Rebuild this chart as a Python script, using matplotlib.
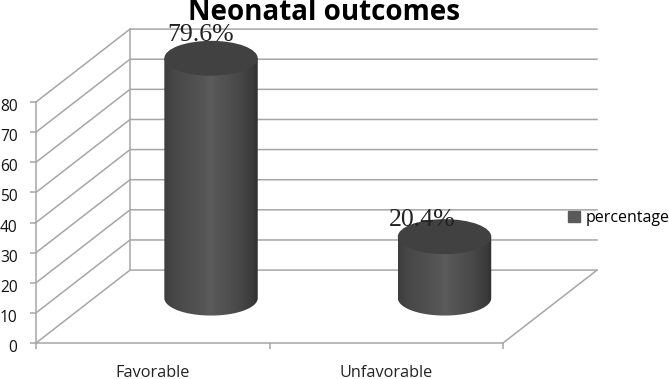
import matplotlib
matplotlib.use('Agg')
import matplotlib.pyplot as plt
import numpy as np
from matplotlib.colors import LinearSegmentedColormap
from matplotlib.patches import Ellipse, PathPatch, Patch
from matplotlib.path import Path
from matplotlib.transforms import ScaledTranslation

categories = ['Favorable', 'Unfavorable']
percentage = [79.6, 20.4]
value_labels = ['79.6%', '20.4%']
y_ticks = [0, 10, 20, 30, 40, 50, 60, 70, 80]

GRID = '#a6a6a6'
TICK_FONT = 'Open Sans'

# the 3D look: back wall is the front plane shifted by this much (data units)
DEPTH_X = 0.4026
DEPTH_Y = 24.2
BAR_DEPTH = 0.62      # bars stand this far back on the floor
BAR_HALF = 0.2
BAR_RY = 5.8
# where the value labels sit relative to the bar top
LABEL_DX = [-0.043, -0.094]
LABEL_DY = [7.8, 5.5]

shade = LinearSegmentedColormap.from_list('cyl', [
    (0.0, '#3d3d3d'), (0.1, '#474747'), (0.42, '#555555'), (0.5, '#5c5c5c'),
    (0.58, '#555555'), (0.8, '#484848'), (0.95, '#3a3a3a'), (1.0, '#2f2f2f')])

fig = plt.figure(figsize=(6.69, 3.79), dpi=100)
ax = fig.add_axes([36 / 669, 36 / 379, 467 / 669, 241 / 379])
ax.set_xlim(0, 2)
ax.set_ylim(0, 80)

# walls and floor
for v in y_ticks:
    ax.plot([0, DEPTH_X, 2 + DEPTH_X], [v, v + DEPTH_Y, v + DEPTH_Y],
            color=GRID, lw=1.1, clip_on=False, zorder=1)
ax.plot([DEPTH_X, DEPTH_X], [DEPTH_Y, 80 + DEPTH_Y], color=GRID, lw=1.1,
        clip_on=False, zorder=1)
ax.plot([2, 2 + DEPTH_X], [0, DEPTH_Y], color=GRID, lw=1.1, clip_on=False, zorder=1)

# cylinders
gradient = np.linspace(0, 1, 256).reshape(1, -1)
for i, val in enumerate(percentage):
    cx = i + 0.5 + BAR_DEPTH * DEPTH_X
    base = 0.616 * DEPTH_Y
    top = base + val
    t = np.linspace(np.pi, 2 * np.pi, 60)
    xs = cx + BAR_HALF * np.cos(t)
    ys = base + BAR_RY * np.sin(t)
    verts = [(cx - BAR_HALF, top)] + list(zip(xs, ys)) + [(cx + BAR_HALF, top), (cx - BAR_HALF, top)]
    body = PathPatch(Path(verts), transform=ax.transData, fc='none', ec='none')
    ax.add_patch(body)
    im = ax.imshow(gradient, extent=[cx - BAR_HALF, cx + BAR_HALF, base - BAR_RY, top],
                   aspect='auto', cmap=shade, zorder=3)
    im.set_clip_box(fig.bbox)   # bars stick out of the front plane
    im.set_clip_path(body)
    ax.add_patch(Ellipse((cx, top), 2 * BAR_HALF, 2 * BAR_RY, fc='#414141', ec='none',
                         zorder=4, clip_on=False))
    ax.text(cx + LABEL_DX[i], top + LABEL_DY[i], value_labels[i], family='Liberation Serif',
            fontsize=18.5, ha='center', va='center', color='#222222', zorder=5, clip_on=False)

ax.set_xlim(0, 2)
ax.set_ylim(0, 80)

# axes
for side in ['top', 'right']:
    ax.spines[side].set_visible(False)
for side in ['left', 'bottom']:
    ax.spines[side].set_color(GRID)
    ax.spines[side].set_linewidth(1.1)
ax.patch.set_visible(False)
ax.set_yticks(y_ticks)
ax.set_yticklabels([str(v) for v in y_ticks], family=TICK_FONT, fontsize=11.2, color='#111111')
ax.tick_params(axis='y', length=4.3, width=1.1, color=GRID, pad=9)
# labels sit a little under their ticks in the original
for lab in ax.get_yticklabels():
    lab.set_transform(lab.get_transform() + ScaledTranslation(0, -3 / 100, fig.dpi_scale_trans))
ax.set_xticks([0, 1, 2])
ax.set_xticklabels([])
ax.set_xticks([0.5, 1.5], minor=True)
ax.set_xticklabels(categories, minor=True, family=TICK_FONT, fontsize=11.7, color='#222222')
ax.tick_params(axis='x', which='major', length=4.3, width=1.1, color=GRID)
ax.tick_params(axis='x', which='minor', length=0, pad=15.5)

fig.text(324 / 669, 1 - 13 / 379, 'Neonatal outcomes', family='Open Sans', fontweight='bold',
         fontsize=20, ha='center', va='center', color='black')

fig.legend(handles=[Patch(color='#5a5a5a', label='percentage')], loc='center left',
           bbox_to_anchor=(562 / 669, 1 - 218 / 379), frameon=False, handlelength=0.72,
           handleheight=0.72, handletextpad=0.35,
           prop={'family': TICK_FONT, 'size': 11.5}, borderpad=0, borderaxespad=0.4)

fig.savefig('out.png', dpi=100)
